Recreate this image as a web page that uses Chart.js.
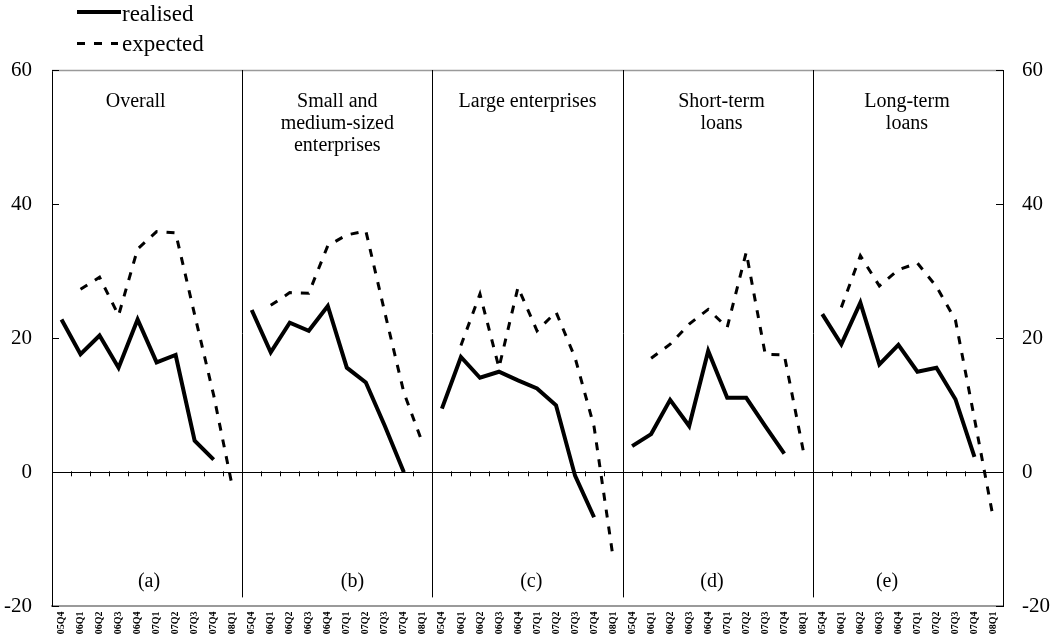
<!DOCTYPE html>
<html>
<head>
<meta charset="utf-8">
<script src="https://cdn.jsdelivr.net/npm/chart.js@4.4.1/dist/chart.umd.min.js"></script>
<style>
  html, body { margin: 0; padding: 0; background: #ffffff; }
  #wrap { width: 1053px; height: 639px; position: relative; }
</style>
</head>
<body>
<div id="wrap"><canvas id="chart" width="1053" height="639"></canvas></div>
<script>
// Quarters shown in every panel
const quarters = ['05Q4', '06Q1', '06Q2', '06Q3', '06Q4', '07Q1', '07Q2', '07Q3', '07Q4', '08Q1'];

// Panel headings (one entry per line) and tags
const panelTitles = [
  ['Overall'],
  ['Small and', 'medium-sized', 'enterprises'],
  ['Large enterprises'],
  ['Short-term', 'loans'],
  ['Long-term', 'loans']
];
const panelTags = ['(a)', '(b)', '(c)', '(d)', '(e)'];

// Realised net percentages, 05Q4 .. 07Q4
const realisedOverall   = [22.8, 17.6, 20.4, 15.6, 22.8, 16.4, 17.5, 4.7, 1.9];
const realisedSME       = [24.2, 17.9, 22.3, 21.1, 24.8, 15.6, 13.4, 6.9, 0.0];
const realisedLarge     = [9.5, 17.2, 14.1, 15.0, 13.7, 12.5, 10.0, -0.5, -6.7];
const realisedShortTerm = [3.9, 5.7, 10.8, 6.9, 18.1, 11.1, 11.1, 6.9, 2.8];
const realisedLongTerm  = [23.6, 19.1, 25.3, 16.1, 19.0, 15.0, 15.6, 10.9, 2.3];

// Expected net percentages, 06Q1 .. 08Q1
const expectedOverall   = [27.3, 29.1, 23.4, 33.3, 35.9, 35.7, 23.5, 11.5, -2.4];
const expectedSME       = [24.9, 26.8, 26.7, 33.8, 35.4, 36.0, 23.8, 11.9, 4.2];
const expectedLarge     = [18.9, 26.6, 15.6, 27.6, 21.1, 23.9, 17.1, 6.8, -12.7];
const expectedShortTerm = [17.0, 19.1, 22.1, 24.3, 21.6, 32.8, 17.6, 17.5, 3.2];
const expectedLongTerm  = [24.6, 32.3, 27.8, 30.2, 31.2, 27.7, 22.7, 8.0, -7.0];

// Value axis ticks
const yTicks = [-20, 0, 20, 40, 60];

// Where each panel's heading and tag sit, in category units from the panel's first quarter
const titleCentre = [3.9, 4.5, 4.5, 4.7, 4.45];
const tagCentre   = [4.6, 5.3, 4.7, 4.2, 3.4];

const labels = panelTags.flatMap(() => quarters);
const realisedData = [realisedOverall, realisedSME, realisedLarge, realisedShortTerm, realisedLongTerm]
  .flatMap(s => [...s, null]);
const expectedData = [expectedOverall, expectedSME, expectedLarge, expectedShortTerm, expectedLongTerm]
  .flatMap(s => [null, ...s]);

const SERIF = '"Liberation Serif", "Times New Roman", serif';
const perPanel = quarters.length;

// Axis frame, panel dividers, headings and legend
const panelDecor = {
  id: 'panelDecor',
  beforeDatasetsDraw(chart) {
    const { ctx, chartArea: a, scales } = chart;
    const x = scales.x, y = scales.y;
    const half = (x.getPixelForValue(1) - x.getPixelForValue(0)) / 2;
    const boundary = i => x.getPixelForValue(i) - half;
    const y0 = y.getPixelForValue(0);
    ctx.save();

    // top frame line
    ctx.strokeStyle = '#9a9a9a';
    ctx.lineWidth = 1.5;
    ctx.beginPath();
    ctx.moveTo(a.left, a.top + 0.5);
    ctx.lineTo(a.right, a.top + 0.5);
    ctx.stroke();

    // panel dividers
    ctx.strokeStyle = '#000';
    ctx.lineWidth = 1;
    for (let p = 1; p < panelTags.length; p++) {
      const bx = Math.round(boundary(p * perPanel)) + 0.5;
      ctx.beginPath();
      ctx.moveTo(bx, a.top);
      ctx.lineTo(bx, a.bottom - 9);
      ctx.stroke();
    }

    // zero line with quarter tick marks
    ctx.beginPath();
    ctx.moveTo(a.left, Math.round(y0) + 0.5);
    ctx.lineTo(a.right, Math.round(y0) + 0.5);
    ctx.stroke();
    for (let i = 0; i <= labels.length; i++) {
      const bx = Math.round(boundary(i)) + 0.5;
      ctx.beginPath();
      ctx.moveTo(bx, y0 - 1);
      ctx.lineTo(bx, y0 + 4);
      ctx.stroke();
    }

    // inward value ticks on both sides
    yTicks.forEach(v => {
      const ty = Math.round(y.getPixelForValue(v)) + 0.5;
      ctx.beginPath();
      ctx.moveTo(a.left, ty);
      ctx.lineTo(a.left + 7, ty);
      ctx.moveTo(a.right - 7, ty);
      ctx.lineTo(a.right, ty);
      ctx.stroke();
    });

    // headings and tags
    ctx.fillStyle = '#000';
    ctx.textAlign = 'center';
    ctx.textBaseline = 'alphabetic';
    ctx.font = '20px ' + SERIF;
    panelTitles.forEach((lines, p) => {
      const cx = boundary(p * perPanel) + (titleCentre[p] + 0.5) * half * 2;
      lines.forEach((t, k) => ctx.fillText(t, cx, 107 + k * 22));
    });
    panelTags.forEach((t, p) => {
      const cx = boundary(p * perPanel) + (tagCentre[p] + 0.5) * half * 2;
      ctx.fillText(t, cx, 587);
    });
    ctx.restore();
  },
  afterDraw(chart) {
    const { ctx } = chart;
    const items = chart.data.datasets;
    ctx.save();
    ctx.fillStyle = '#000';
    ctx.strokeStyle = '#000';
    ctx.font = '23px ' + SERIF;
    ctx.textAlign = 'left';
    ctx.textBaseline = 'alphabetic';
    const rows = [{ ly: 12, by: 21 }, { ly: 43.5, by: 51 }];
    items.forEach((ds, i) => {
      const r = rows[i];
      ctx.lineWidth = ds.borderWidth;
      ctx.setLineDash(ds.borderDash || []);
      ctx.beginPath();
      ctx.moveTo(77, r.ly);
      ctx.lineTo(i === 0 ? 121 : 118, r.ly);
      ctx.stroke();
      ctx.setLineDash([]);
      ctx.fillText(ds.label, 122, r.by);
    });
    ctx.restore();
  }
};

const valueAxis = (position, width) => ({
  position,
  min: -20,
  max: 60,
  afterBuildTicks(scale) { scale.ticks = yTicks.map(v => ({ value: v })); },
  ticks: { padding: position === 'left' ? 20 : 19, color: '#000', font: { family: SERIF, size: 21 } },
  grid: { display: false, drawTicks: false },
  border: { display: true, color: '#000', width: 1 },
  afterFit(scale) { scale.width = width; }
});

new Chart(document.getElementById('chart'), {
  type: 'line',
  data: {
    labels,
    datasets: [
      {
        label: 'realised',
        data: realisedData,
        borderColor: '#000',
        borderWidth: 4,
        pointRadius: 0,
        tension: 0,
        spanGaps: false,
        yAxisID: 'y'
      },
      {
        label: 'expected',
        data: expectedData,
        borderColor: '#000',
        borderWidth: 3,
        borderDash: [8, 9],
        pointRadius: 0,
        tension: 0,
        spanGaps: false,
        yAxisID: 'y'
      }
    ]
  },
  options: {
    responsive: false,
    animation: false,
    layout: { padding: { top: 70, left: 0, right: 0, bottom: 0 } },
    plugins: { legend: { display: false }, tooltip: { enabled: false } },
    scales: {
      x: {
        type: 'category',
        offset: true,
        grid: { display: false, drawTicks: false },
        border: { display: true, color: '#9a9a9a', width: 2 },
        ticks: {
          autoSkip: false,
          minRotation: 90,
          maxRotation: 90,
          padding: 5,
          color: '#000',
          font: { family: SERIF, size: 10, weight: 'bold' }
        },
        afterFit(scale) { scale.height = 32; }
      },
      y: valueAxis('left', 52),
      y2: valueAxis('right', 50)
    }
  },
  plugins: [panelDecor]
});
</script>
</body>
</html>
